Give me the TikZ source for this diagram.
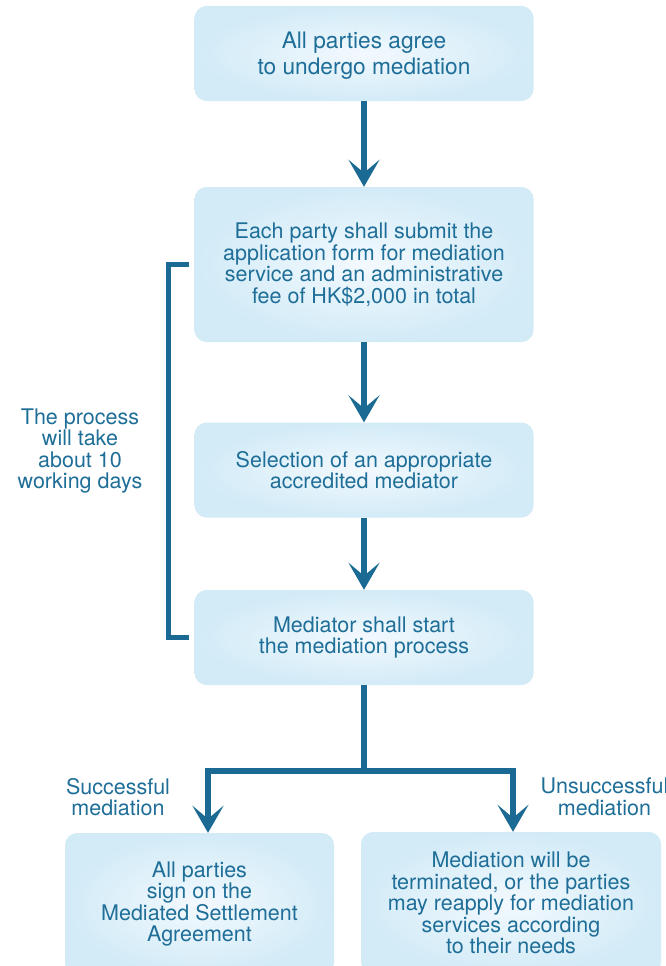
\documentclass[tikz,border=0pt]{standalone}
\usepackage{fontspec}
\setmainfont{TeX Gyre Heros}
\usetikzlibrary{arrows.meta}
\definecolor{flowblue}{RGB}{26,106,148}
\definecolor{inkblue}{RGB}{30,110,152}
\definecolor{boxedge}{RGB}{210,235,247}
\definecolor{boxcore}{RGB}{243,249,254}
\tikzset{
  stepbox/.style={rounded corners=12pt, inner color=boxcore, outer color=boxedge,
    minimum width=339pt, inner sep=0pt, align=center, text=inkblue,
    font=\fontsize{21.5}{21.5}\selectfont},
  note/.style={align=center, text=inkblue, inner sep=0pt,
    font=\fontsize{21.5}{21.5}\selectfont},
  flow/.style={draw=flowblue, line width=6pt,
    -{Stealth[length=27pt,width=31pt,inset=13pt]}},
}
\begin{document}
\begin{tikzpicture}[x=1pt,y=-1pt]
  \useasboundingbox (0,0) rectangle (665,966);
  \clip (0,0) rectangle (665,966);
  % steps
  \node[stepbox, minimum height=95pt, text depth=0pt,
    font=\fontsize{22.7}{22.7}\selectfont] (agree) at (364,53.5)
    {All parties agree\\[3.5pt]to undergo mediation};
  \node[stepbox, minimum height=155pt] (submit) at (364,264.5)
    {Each party shall submit the\\application form for mediation\\service and an administrative\\fee of HK\$2,000 in total};
  \node[stepbox, minimum height=95pt] (select) at (364,470)
    {Selection of an appropriate\\accredited mediator};
  \node[stepbox, minimum height=95pt] (start) at (364,637.5)
    {Mediator shall start\\the mediation process};
  \node[stepbox, minimum width=269pt, minimum height=142pt] (sign) at (199.5,904)
    {All parties\\sign on the\\Mediated Settlement\\Agreement};
  \node[stepbox, minimum width=300pt, minimum height=142pt] (reapply) at (511,903)
    {Mediation will be\\terminated, or the parties\\may reapply for mediation\\services according\\to their needs};
  % labels
  \node[note] (days) at (80,451) {The process\\will take\\about 10\\working days};
  \node[note] (good) at (118,797) {Successful\\mediation};
  \node[note] (bad) at (604.5,797) {Unsuccessful\\mediation};
  % arrows
  \draw[flow] (agree) -- (submit);
  \draw[flow] (submit) -- (select);
  \draw[flow] (select) -- (start);
  \coordinate (fork) at (364,770.5);
  \coordinate (forkL) at (208,770.5);
  \coordinate (forkR) at (513,770.5);
  \draw[draw=flowblue, line width=6pt] (start.south) -- ([yshift=3pt]fork);
  \draw[flow, {Stealth[length=27pt,width=31pt,inset=13pt]}-{Stealth[length=27pt,width=31pt,inset=13pt]}, line join=miter]
    (forkL |- sign.north) -- (forkL) -- (forkR) -- (forkR |- reapply.north);
  % bracket
  \draw[draw=flowblue, line width=5pt, line join=miter]
    ([xshift=-5pt]submit.west) -- ++(-21,0) |- ([xshift=-5pt]start.west);
\end{tikzpicture}
\end{document}
